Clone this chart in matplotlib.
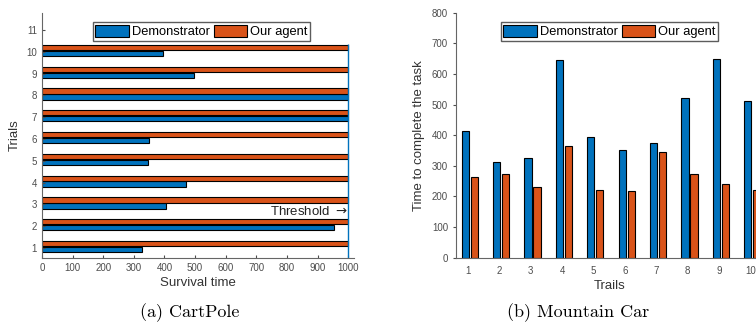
import numpy as np
import matplotlib
matplotlib.use('Agg')
import matplotlib.pyplot as plt

plt.rcParams['font.family'] = ['Liberation Sans', 'DejaVu Sans']
plt.rcParams['axes.unicode_minus'] = False

# CartPole data (survival time per trial)
cp_trials = np.arange(1, 11)
cp_demo = [326, 954, 404, 470, 346, 350, 1000, 1000, 497, 395]
cp_agent = [1000, 1000, 1000, 1000, 1000, 1000, 1000, 1000, 1000, 1000]
threshold = 1000

# Mountain Car data (time to complete the task)
mc_trails = np.arange(1, 11)
mc_demo = [413, 311, 324, 646, 395, 351, 376, 523, 650, 511]
mc_agent = [262, 274, 231, 366, 222, 217, 344, 273, 242, 221]

blue = '#0072BD'
orange = '#D95319'
tick_col = '#4d4d4d'
spine_col = '#666666'

fig = plt.figure(figsize=(7.56, 3.33), dpi=100)

# ---------- (a) CartPole ----------
ax1 = fig.add_axes([0.0556, 0.226, 0.413, 0.736])
bh = 0.24
ax1.barh(cp_trials - 0.07, cp_demo, height=bh, color=blue, edgecolor='black', linewidth=0.8, label='Demonstrator')
ax1.barh(cp_trials + 0.20, cp_agent, height=bh, color=orange, edgecolor='black', linewidth=0.8, label='Our agent')
ax1.vlines(threshold, 0.55, 10.35, color=blue, linewidth=1)
ax1.text(threshold - 2, 2.65, 'Threshold $\\rightarrow$', ha='right', va='center', fontsize=9.5, color='#222222')
ax1.set_xlim(0, 1020)
ax1.set_ylim(0.55, 11.8)
ax1.set_xticks(np.arange(0, 1001, 100))
ax1.set_yticks(np.arange(1, 12))
ax1.tick_params(direction='in', labelsize=7, colors=tick_col, length=2.5)
ax1.set_xlabel('Survival time', fontsize=9.5, color='#333333', labelpad=3)
ax1.set_ylabel('Trials', fontsize=9.5, color='#333333', labelpad=4)
for s in ['top', 'right']:
    ax1.spines[s].set_visible(False)
for s in ['left', 'bottom']:
    ax1.spines[s].set_color(spine_col)
ax1.legend(loc='upper center', bbox_to_anchor=(0.51, 0.96), ncol=2, fontsize=9.3, frameon=True,
           fancybox=False, edgecolor='#333333', handlelength=2.6, handleheight=1.0,
           handletextpad=0.2, columnspacing=0.3, borderpad=0.2, borderaxespad=0)

# ---------- (b) Mountain Car ----------
ax2 = fig.add_axes([0.6036, 0.226, 0.4046, 0.736])
bw = 0.23
ax2.bar(mc_trails - 0.09, mc_demo, width=bw, color=blue, edgecolor='black', linewidth=0.8, label='Demonstrator')
ax2.bar(mc_trails + 0.20, mc_agent, width=bw, color=orange, edgecolor='black', linewidth=0.8, label='Our agent')
ax2.set_xlim(0.63, 10.37)
ax2.set_ylim(0, 800)
ax2.set_xticks(mc_trails)
ax2.set_yticks(np.arange(0, 801, 100))
ax2.tick_params(axis='y', direction='out', labelsize=7, colors=tick_col, length=2.5)
ax2.tick_params(axis='x', direction='in', labelsize=7, colors=tick_col, length=0, pad=6)
ax2.set_xlabel('Trails', fontsize=9.5, color='#333333', labelpad=3)
ax2.set_ylabel('Time to complete the task', fontsize=9.5, color='#333333', labelpad=5)
for s in ['top', 'right']:
    ax2.spines[s].set_visible(False)
for s in ['left', 'bottom']:
    ax2.spines[s].set_color(spine_col)
ax2.legend(loc='upper center', bbox_to_anchor=(0.5, 0.96), ncol=2, fontsize=9.3, frameon=True,
           fancybox=False, edgecolor='#333333', handlelength=2.6, handleheight=1.0,
           handletextpad=0.2, columnspacing=0.3, borderpad=0.2, borderaxespad=0)

# sub-captions
fig.text(190 / 756, 1 - 313 / 333, '(a) CartPole', ha='center', va='center', fontsize=13, family='cmr10')
fig.text(578 / 756, 1 - 313 / 333, '(b) Mountain Car', ha='center', va='center', fontsize=13, family='cmr10')

fig.savefig('out.png', dpi=100)
